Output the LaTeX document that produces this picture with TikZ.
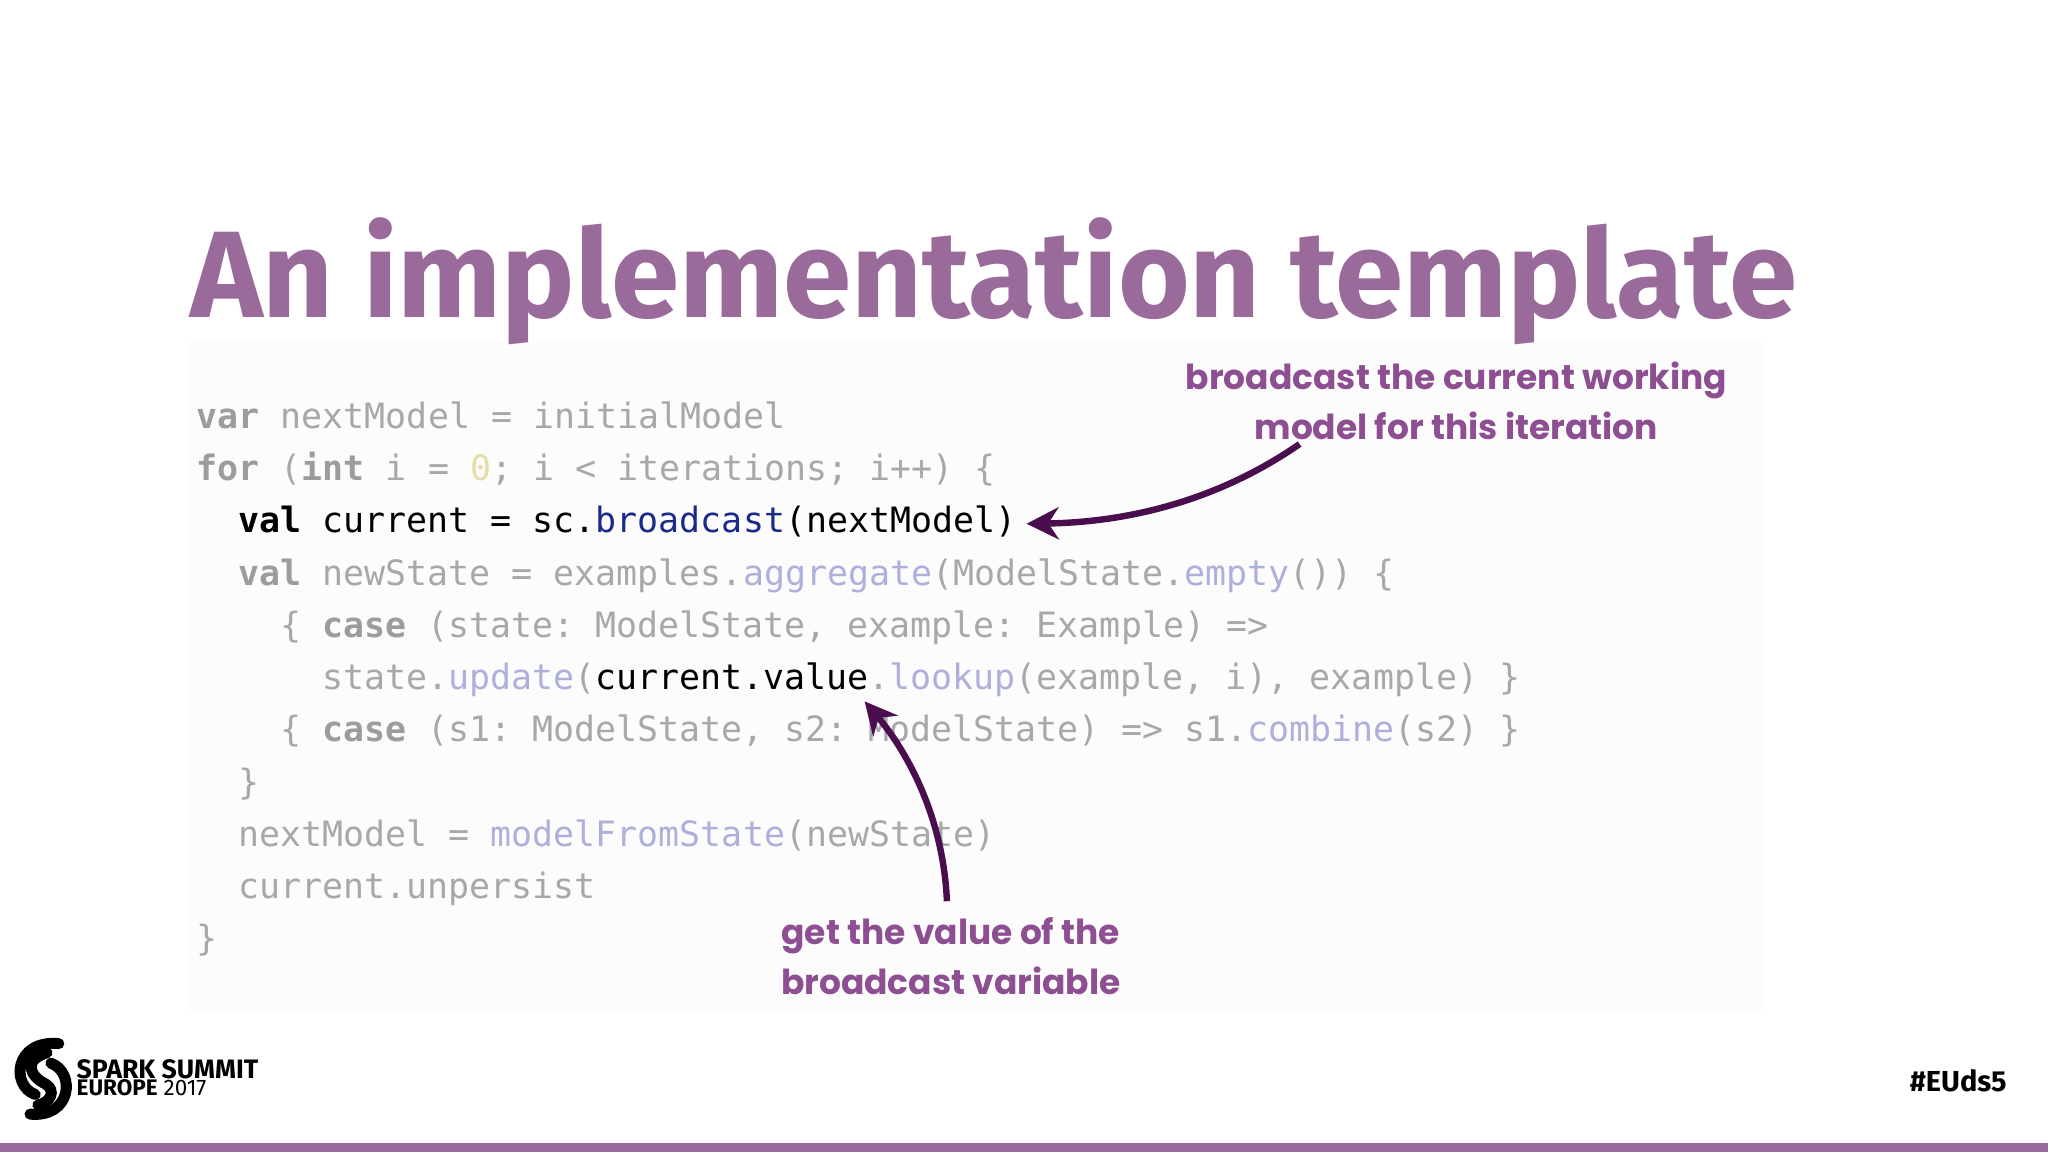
\documentclass[tikz,border=0pt]{standalone}
\usepackage{fontspec}
\setmainfont{Fira Sans}
\setmonofont{DejaVu Sans Mono}
\newfontfamily\hand{Poppins}
\usetikzlibrary{arrows.meta}
\definecolor{ttl}{HTML}{9A6B9A}
\definecolor{ann}{HTML}{8E4F92}
\definecolor{arr}{HTML}{4A0E4E}
\definecolor{fg}{HTML}{A8A8A8}
\definecolor{kw}{HTML}{9C9C9C}
\definecolor{mt}{HTML}{AEB0DC}
\definecolor{nm}{HTML}{E6DCA8}
\definecolor{bc}{HTML}{1A2A8A}
\newcommand{\K}[1]{\textbf{\color{kw}#1}}
\newcommand{\M}[1]{{\color{mt}#1}}
\begin{document}
\begin{tikzpicture}[x=0.01cm,y=-0.01cm,
  code/.style={anchor=base west,inner sep=0,font=\ttfamily\fontsize{7.6}{9}\selectfont,text=fg},
  note/.style={align=center,text=ann,font=\hand\bfseries\fontsize{7.5}{10.8}\selectfont},
  pointer/.style={arr,line width=1.4pt,-{Stealth[length=7pt,width=7pt]}}]
\useasboundingbox (0,0) rectangle (1568,882);
\fill[white] (0,0) rectangle (1568,882);
\fill[black!1] (145,262) rectangle (1350,775);
\fill[ttl] (0,875) rectangle (1568,882);
\node[anchor=base west,inner sep=0,text=ttl,font=\bfseries\fontsize{26.8}{28}\selectfont] (title) at (145,243) {An implementation template};
\node[code] (l1) at (150,328) {\K{var} nextModel = initialModel};
\node[code] (l2) at (150,368) {\K{for} (\K{int} i = {\color{nm}0}; i < iterations; i++) \{};
\node[code,text=black] (l3) at (182,408) {\textbf{val} current = sc.{\color{bc}broadcast}(nextModel)};
\node[code] (l4) at (182,448) {\K{val} newState = examples.\M{aggregate}(ModelState.\M{empty}()) \{};
\node[code] (l5) at (214,488) {\{ \K{case} (state: ModelState, example: Example) =>};
\node[code] (l6) at (246,528) {state.\M{update}({\color{black}current.value}.\M{lookup}(example, i), example) \}};
\node[code] (l7) at (214,568) {\{ \K{case} (s1: ModelState, s2: ModelState) => s1.\M{combine}(s2) \}};
\node[code] (l8) at (182,608) {\}};
\node[code] (l9) at (182,648) {nextModel = \M{modelFromState}(newState)};
\node[code] (l10) at (182,688) {current.unpersist};
\node[code] (l11) at (150,728) {\}};
\node[note] (n1) at (1115,307) {broadcast the current working\\model for this iteration};
\node[note] (n2) at (728,732) {get the value of the\\broadcast variable};
\coordinate (t1) at (786,401);
\coordinate (t2) at (662,537);
\draw[pointer] (995,340) .. controls (930,385) and (860,400) .. (t1);
\draw[pointer] (725,690) .. controls (722,620) and (690,570) .. (t2);
% logo
\begin{scope}[shift={(33,826)},line width=2.4pt,black,line cap=round]
\draw (12,-27) .. controls (-22,-30) and (-25,5) .. (-6,12);
\draw (-10,27) .. controls (22,30) and (25,-5) .. (6,-12);
\draw (3,-20) .. controls (-16,-14) and (-10,-2) .. (2,4) .. controls (10,9) and (6,18) .. (-4,20);
\end{scope}
\node[anchor=base west,inner sep=0,font=\bfseries\fontsize{5.8}{6}\selectfont] (s1) at (58,826) {SPARK SUMMIT};
\node[anchor=base west,inner sep=0,font=\fontsize{4.9}{5}\selectfont] (s2) at (58,839) {\textbf{EUROPE} 2017};
\node[anchor=base east,inner sep=0,font=\bfseries\fontsize{6.3}{7}\selectfont] (tag) at (1537,836) {\#EUds5};
\end{tikzpicture}
\end{document}
